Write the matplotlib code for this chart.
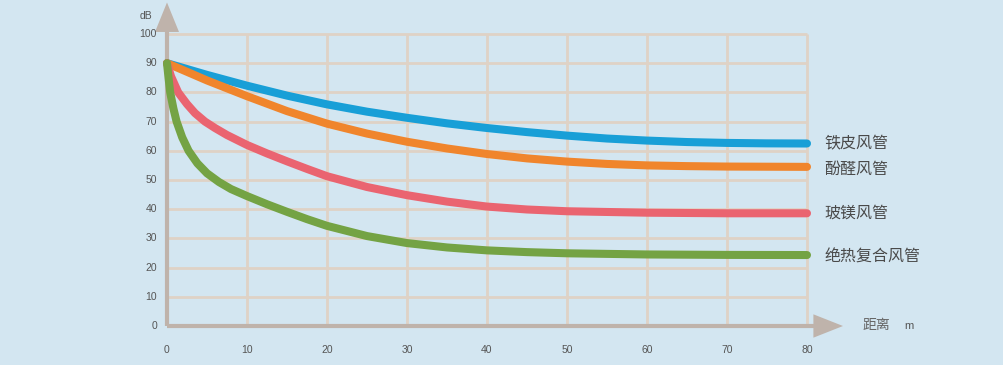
import matplotlib
matplotlib.use("Agg")
import matplotlib.pyplot as plt
from matplotlib.patches import Polygon

plt.rcParams['font.family'] = ['Noto Sans CJK SC', 'DejaVu Sans']

# ---- data ----
x_blue = [0, 5, 10, 15, 20, 25, 30, 35, 40, 45, 50, 55, 60, 65, 70, 75, 80]
y_blue = [90, 86.0, 82.3, 78.9, 75.9, 73.4, 71.3, 69.4, 67.8, 66.4, 65.2, 64.2, 63.5, 63.0, 62.7, 62.55, 62.5]

x_orange = [0, 5, 10, 15, 20, 25, 30, 35, 40, 45, 50, 55, 60, 65, 70, 75, 80]
y_orange = [90, 84.1, 78.7, 73.6, 69.3, 65.9, 63.1, 60.8, 58.9, 57.4, 56.3, 55.5, 55.0, 54.75, 54.6, 54.55, 54.5]

x_red = [0, 0.5, 1.4, 2.5, 3.5, 4.75, 6, 7.5, 10, 12.5, 15, 17.5, 20, 25, 30, 35, 40, 45, 50, 60, 70, 80]
y_red = [90, 85.5, 80, 76.0, 72.9, 70.0, 67.8, 65.4, 62.0, 59.1, 56.4, 53.8, 51.3, 47.6, 44.8, 42.6, 40.9, 39.9, 39.3, 38.8, 38.6, 38.6]

x_green = [0, 0.2, 0.4, 0.8, 1.2, 1.9, 2.7, 3.8, 5.0, 6.5, 8, 10, 12.5, 15, 17.5, 20, 25, 30, 35, 40, 45, 50, 60, 70, 80]
y_green = [90, 84.8, 80, 74.5, 70, 64.6, 60, 55.7, 52.3, 49.3, 46.9, 44.5, 41.7, 39.1, 36.6, 34.3, 30.8, 28.4, 26.9, 25.9, 25.3, 24.9, 24.5, 24.35, 24.3]

series_names = ['铁皮风管', '酚醛风管', '玻镁风管', '绝热复合风管']
label_y = [62.5, 53.5, 38.5, 23.5]
x_ticks = [0, 10, 20, 30, 40, 50, 60, 70, 80]
y_ticks = [0, 10, 20, 30, 40, 50, 60, 70, 80, 90, 100]

# ---- style ----
bg = '#d3e6f1'
grid_c = '#dfd2c6'
axis_c = '#bfb3ab'
colors = ['#189fd7', '#f0852c', '#ea6470', '#74a344']

fig = plt.figure(figsize=(10.04, 3.65), dpi=100, facecolor=bg)
ax = fig.add_axes([167/1004, (365-326)/365, 640/1004, 292/365])
ax.set_facecolor(bg)
ax.set_xlim(0, 80)
ax.set_ylim(0, 100)
for s in ax.spines.values():
    s.set_visible(False)
ax.set_xticks([])
ax.set_yticks([])

# grid
for yv in y_ticks[1:]:
    ax.plot([0, 80], [yv, yv], color=grid_c, lw=2.0, zorder=1, clip_on=False, solid_capstyle='butt')
for xv in x_ticks[1:]:
    ax.plot([xv, xv], [0, 100], color=grid_c, lw=2.0, zorder=1, clip_on=False, solid_capstyle='butt')

# axes lines + arrows
ax.plot([0, 0], [0, 101], color=axis_c, lw=3.0, zorder=2, clip_on=False, solid_capstyle='butt')
ax.plot([0, 81.0], [0, 0], color=axis_c, lw=3.0, zorder=2, clip_on=False, solid_capstyle='butt')
ax.add_patch(Polygon([[-1.5, 100.7], [1.5, 100.7], [0, 110.8]], closed=True,
                     facecolor=axis_c, edgecolor='none', clip_on=False, zorder=2))
ax.add_patch(Polygon([[80.8, -4.0], [80.8, 4.0], [84.5, 0]], closed=True,
                     facecolor=axis_c, edgecolor='none', clip_on=False, zorder=2))

# curves
data = [(x_blue, y_blue), (x_orange, y_orange), (x_red, y_red), (x_green, y_green)]
for i, ((xs, ys), c) in enumerate(zip(data, colors)):
    ax.plot(xs, ys, color=c, lw=5.8, solid_capstyle='round', solid_joinstyle='round',
            zorder=3 + i, clip_on=False)

# tick labels
tick_font = ['Liberation Sans', 'DejaVu Sans']
for yv in y_ticks:
    ax.text(-1.25, yv, str(yv), ha='right', va='center', fontsize=7.5, color='#555555',
            family=tick_font)
for xv in x_ticks:
    ax.text(xv, -8.2, str(xv), ha='center', va='center', fontsize=7.5, color='#555555',
            family=tick_font)

ax.text(-2.6, 106.0, 'dB', ha='center', va='center', fontsize=7.5, color='#555555', family=tick_font)

# series labels
for name, yv in zip(series_names, label_y):
    ax.text(82.2, yv, name, ha='left', va='center', fontsize=11.5, color='#4a4a4a')

ax.text(87.0, 0.2, '距离', ha='left', va='center', fontsize=10, color='#666666')
ax.text(92.1, 0, 'm', ha='left', va='center', fontsize=8, color='#555555', family=tick_font)

fig.savefig('out.png', dpi=100, facecolor=bg)
